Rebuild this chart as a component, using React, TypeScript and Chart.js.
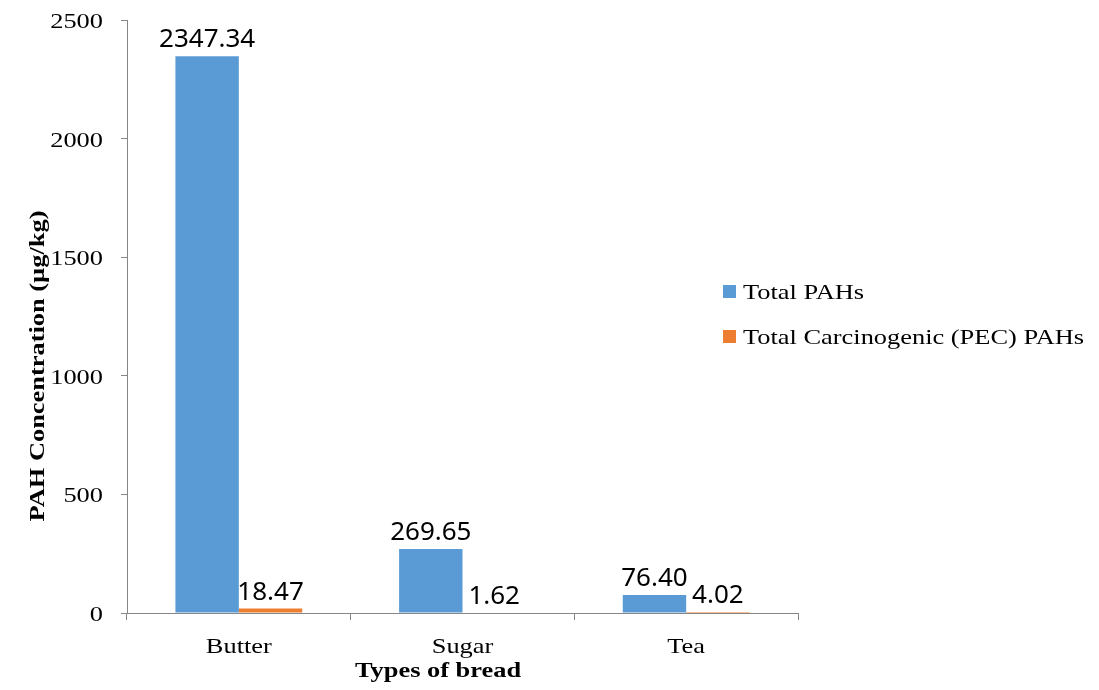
import React, { useEffect, useRef } from "react";
import { Chart, registerables } from "chart.js";

Chart.register(...registerables);

const categories = ["Butter", "Sugar", "Tea"];
const totalPAHs = [2347.34, 269.65, 76.4];
const carcinogenicPAHs = [18.47, 1.62, 4.02];
const seriesNames = ["Total PAHs", "Total Carcinogenic (PEC) PAHs"];
const yTicks = [0, 500, 1000, 1500, 2000, 2500];
const yTitle = "PAH Concentration (µg/kg)";
const xTitle = "Types of bread";

const BLUE = "#5B9BD5";
const ORANGE = "#ED7D31";
const AXIS = "#868686";
const SERIF = "'Liberation Serif', 'Times New Roman', serif";
const SANS = "'Noto Sans', 'Open Sans', sans-serif";
const STRETCH = 1.2;

function drawWide(ctx: any, text: string, x: number, y: number, align: string, font: string, rot = 0) {
  ctx.save();
  ctx.font = font;
  ctx.textAlign = align;
  ctx.textBaseline = "alphabetic";
  ctx.fillStyle = "#000";
  ctx.translate(x, y);
  if (rot) ctx.rotate(rot);
  ctx.scale(STRETCH, 1);
  ctx.fillText(text, 0, 0);
  ctx.restore();
}

const labelsPlugin = {
  id: "valueLabels",
  afterDatasetsDraw(chart: any) {
    const ctx = chart.ctx;
    ctx.save();
    ctx.font = `26px ${SANS}`;
    ctx.fillStyle = "#000";
    ctx.textAlign = "center";
    ctx.textBaseline = "alphabetic";
    chart.data.datasets.forEach((ds: any, di: number) => {
      const meta = chart.getDatasetMeta(di);
      meta.data.forEach((bar: any, i: number) => {
        const v = ds.data[i] as number;
        ctx.fillText(v.toFixed(2), bar.x, bar.y - 9);
      });
    });
    ctx.restore();
  },
};

const decorPlugin = {
  id: "decor",
  afterDraw(chart: any) {
    const ctx = chart.ctx;
    const tickFont = `22px ${SERIF}`;
    const xs = chart.scales.x;
    const ys = chart.scales.y;
    // y tick labels
    yTicks.forEach((v) => {
      drawWide(ctx, String(v), 103, ys.getPixelForValue(v) + 8, "right", tickFont);
    });
    // x tick labels
    categories.forEach((c, i) => {
      drawWide(ctx, c, xs.getPixelForValue(i), 653, "center", tickFont);
    });
    // legend
    const items = chart.data.datasets.map((d: any) => ({ label: d.label, color: d.backgroundColor }));
    const legendX = 723;
    const baselines = [299, 344];
    items.forEach((it: any, i: number) => {
      ctx.fillStyle = it.color;
      ctx.fillRect(legendX, baselines[i] - 14, 13, 13);
      drawWide(ctx, it.label, legendX + 20, baselines[i], "left", tickFont);
    });
    // axis titles
    const titleFont = `bold 22px ${SERIF}`;
    drawWide(ctx, xTitle, 438, 677, "center", titleFont);
    drawWide(ctx, yTitle, 44, 366, "center", titleFont, -Math.PI / 2);
  },
};

export default function App() {
  const ref = useRef<HTMLCanvasElement>(null);
  useEffect(() => {
    if (!ref.current) return;
    const chart = new Chart(ref.current, {
      type: "bar",
      data: {
        labels: categories,
        datasets: [
          { label: seriesNames[0], data: totalPAHs, backgroundColor: BLUE, borderWidth: 0 },
          { label: seriesNames[1], data: carcinogenicPAHs, backgroundColor: ORANGE, borderWidth: 0 },
        ],
      },
      options: {
        responsive: false,
        animation: false,
        devicePixelRatio: 1,
        layout: { padding: { left: 0, top: 20, right: 301, bottom: 0 } },
        datasets: { bar: { categoryPercentage: 0.567, barPercentage: 1 } },
        plugins: { legend: { display: false }, tooltip: { enabled: false } },
        scales: {
          x: {
            grid: { drawOnChartArea: false, drawTicks: true, tickLength: 7, color: AXIS, offset: true },
            border: { color: AXIS, width: 1 },
            ticks: { display: false },
            afterFit: (s: any) => { s.height = 77; },
          },
          y: {
            min: 0,
            max: 2500,
            afterBuildTicks: (s: any) => { s.ticks = yTicks.map((v) => ({ value: v })); },
            grid: { drawOnChartArea: false, drawTicks: true, tickLength: 6, color: AXIS },
            border: { color: AXIS, width: 1 },
            ticks: { display: false },
            afterFit: (s: any) => { s.width = 127; },
          },
        },
      },
      plugins: [labelsPlugin, decorPlugin],
    });
    return () => chart.destroy();
  }, []);
  return (
    <div style={{ position: "fixed", left: 0, top: 0, width: 1099, height: 690, background: "#fff" }}>
      <canvas ref={ref} width={1099} height={690} />
    </div>
  );
}
